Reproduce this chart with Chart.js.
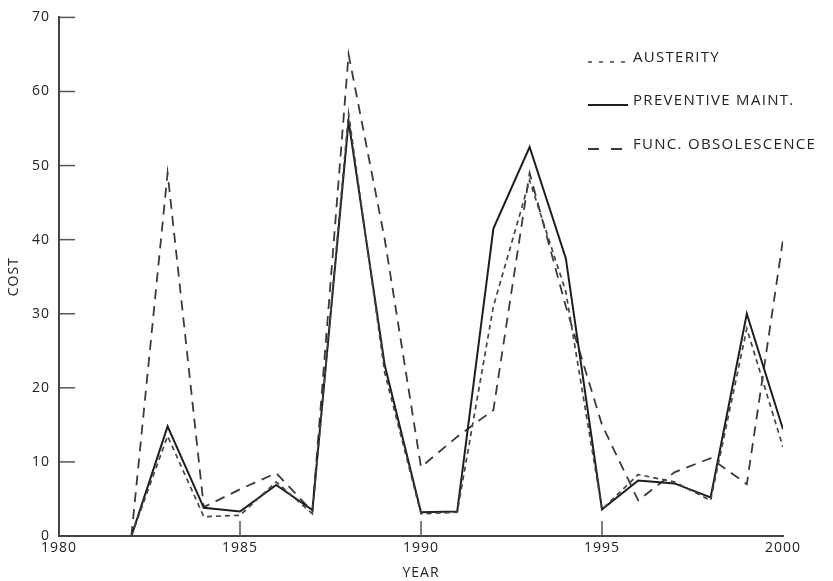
<!DOCTYPE html>
<html>
<head>
<meta charset="utf-8">
<script src="https://cdn.jsdelivr.net/npm/chart.js@4/dist/chart.umd.min.js"></script>
<style>
  html, body { margin: 0; padding: 0; background: #fff; }
  #wrap { width: 833px; height: 581px; position: relative; }
</style>
</head>
<body>
<div id="wrap"><canvas id="myChart"></canvas></div>
<script>
// datos
const years = [1982, 1983, 1984, 1985, 1986, 1987, 1988, 1989, 1990, 1991,
               1992, 1993, 1994, 1995, 1996, 1997, 1998, 1999, 2000];
const austerity = [0, 13.5, 2.6, 2.8, 7.3, 3.0, 57, 22, 3.0, 3.2,
                   31, 48, 33, 3.6, 8.3, 7.3, 4.8, 28, 12];
const preventiveMaint = [0, 14.8, 3.8, 3.3, 6.9, 3.5, 56, 23, 3.2, 3.3,
                         41.5, 52.5, 37.5, 3.6, 7.5, 7.1, 5.2, 30, 14.4];
const funcObsolescence = [0, 49, 3.9, 6.3, 8.5, 3.3, 65, 40, 9.3, 13.4,
                          17, 49, 31, 15, 4.8, 8.6, 10.5, 7, 40];
const yTickValues = [10, 20, 30, 40, 50, 60, 70];
const xMarkYears = [1985, 1990, 1995];

const toPoints = vals => vals.map((v, i) => ({ x: years[i], y: v }));

const FONT = '"Open Sans", "DejaVu Sans", sans-serif';

// marcas cortas hacia dentro y leyenda dibujada a mano
const extras = {
    id: 'extras',
    beforeDraw(chart) {
        // el texto del original va algo espaciado
        if ('letterSpacing' in chart.ctx) chart.ctx.letterSpacing = '1px';
    },
    afterDraw(chart) {
        const { ctx, scales: { x, y } } = chart;
        ctx.save();
        ctx.strokeStyle = '#555';
        ctx.lineWidth = 1.5;
        yTickValues.forEach(v => {
            const py = y.getPixelForValue(v);
            ctx.beginPath();
            ctx.moveTo(x.left, py);
            ctx.lineTo(x.left + 16, py);
            ctx.stroke();
        });
        xMarkYears.forEach(v => {
            const px = x.getPixelForValue(v);
            ctx.beginPath();
            ctx.moveTo(px, y.bottom);
            ctx.lineTo(px, y.bottom - 15);
            ctx.stroke();
        });

        // leyenda
        const lx = chart.chartArea.right - 195;
        const rows = [58, 101, 145];
        ctx.font = '15px ' + FONT;
        ctx.textBaseline = 'middle';
        ctx.fillStyle = '#222';
        if ('letterSpacing' in ctx) ctx.letterSpacing = '1.3px';
        chart.data.datasets.forEach((ds, i) => {
            const ry = rows[i];
            ctx.strokeStyle = ds.borderColor;
            ctx.lineWidth = ds.borderWidth;
            ctx.setLineDash(ds.legendDash);
            ctx.beginPath();
            ctx.moveTo(lx, ry + 4);
            ctx.lineTo(lx + 40, ry + 4);
            ctx.stroke();
            ctx.setLineDash([]);
            ctx.fillText(ds.label, lx + 45, ry);
        });
        ctx.restore();
        if ('letterSpacing' in ctx) ctx.letterSpacing = '0px';
    }
};

let mychart = document.getElementById('myChart').getContext('2d');

var chart = new Chart(mychart, {
    type: 'line',
    data: {
        datasets: [
            {
                label: 'AUSTERITY',
                data: toPoints(austerity),
                borderColor: '#444',
                borderWidth: 1.7,
                borderDash: [5, 4],
                legendDash: [4, 7],
                pointRadius: 0,
                tension: 0
            },
            {
                label: 'PREVENTIVE MAINT.',
                data: toPoints(preventiveMaint),
                borderColor: '#1e1e1e',
                borderWidth: 2,
                borderDash: [],
                legendDash: [],
                pointRadius: 0,
                tension: 0
            },
            {
                label: 'FUNC. OBSOLESCENCE',
                data: toPoints(funcObsolescence),
                borderColor: '#3a3a3a',
                borderWidth: 1.8,
                borderDash: [10, 7],
                legendDash: [11, 12],
                pointRadius: 0,
                tension: 0
            }
        ]
    },
    options: {
        responsive: true,
        maintainAspectRatio: false,
        animation: false,
        layout: { padding: { left: 0, right: 50, top: 15, bottom: 0 } },
        scales: {
            x: {
                type: 'linear',
                min: 1980,
                max: 2000,
                afterFit: s => { s.height = 45; },
                grid: { display: false, drawTicks: false },
                border: { display: true, color: '#444', width: 2 },
                ticks: {
                    stepSize: 5,
                    padding: 4,
                    color: '#222',
                    font: { family: FONT, size: 14 },
                    callback: v => String(v)
                },
                title: {
                    display: true,
                    text: 'YEAR',
                    color: '#222',
                    font: { family: FONT, size: 14 },
                    padding: { top: 0, bottom: 0 }
                }
            },
            y: {
                min: 0,
                max: 70,
                afterFit: s => { s.width = 59; },
                grid: { display: false, drawTicks: false },
                border: { display: true, color: '#444', width: 2 },
                ticks: {
                    stepSize: 10,
                    padding: 9,
                    color: '#222',
                    font: { family: FONT, size: 14 }
                },
                title: {
                    display: true,
                    text: 'COST',
                    color: '#222',
                    font: { family: FONT, size: 14 },
                    padding: { top: 6, bottom: 0 }
                }
            }
        },
        plugins: {
            legend: { display: false },
            tooltip: { enabled: false }
        }
    },
    plugins: [extras]
});
</script>
</body>
</html>
